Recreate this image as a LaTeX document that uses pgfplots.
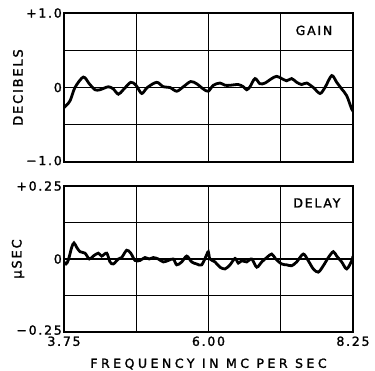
\documentclass[border=0pt]{standalone}
\usepackage{fontspec}
\usepackage{pgfplots}
\pgfplotsset{compat=1.18}
\setmainfont{DejaVu Sans}
\newfontfamily\lbl[LetterSpace=14,FakeBold=1.6]{DejaVu Sans}
\newfontfamily\lblx[LetterSpace=28,FakeBold=1.6]{DejaVu Sans}
\begin{document}
\begin{tikzpicture}
\useasboundingbox (0pt,0pt) rectangle (375pt,-370pt);
\pgfplotsset{
  panel/.style={
    scale only axis, width=289pt, xmin=3.75, xmax=8.25,
    axis line style={line width=1.6pt},
    grid=major, major grid style={black, line width=1.1pt},
    major tick length=0pt,
    xtick={3.75,4.875,6,7.125,8.25},
    tick label style={font=\lbl\fontsize{12.5}{13}\selectfont},
    yticklabel style={inner xsep=2pt},
    /pgf/number format/assume math mode=true,
    every axis y label/.style={at={([xshift=-46pt]axis description cs:0,0.5)}, rotate=90, anchor=center, font=\lbl\fontsize{13}{14}\selectfont},
    every axis x label/.style={at={([yshift=-32pt]axis description cs:0.5,0)}, anchor=center, font=\lblx\fontsize{12.5}{13}\selectfont},
  }
}
\begin{axis}[panel, height=149pt, at={(64pt,-13pt)}, anchor=north west,
  ymin=-1, ymax=1, ytick={-1,-0.5,0,0.5,1},
  yticklabels={\raisebox{3pt}{−1.0},,0,,\raisebox{-2.5pt}{+1.0}},
  xticklabels={},
  ylabel={DECIBELS}]
\addplot[black, line width=2.8pt, smooth, tension=0.5] coordinates {
(3.750,-0.27)(3.843,-0.18)(3.921,0.00)(4.051,0.14)(4.144,0.05)(4.233,-0.03)
(4.311,-0.03)(4.440,0.01)(4.518,-0.02)(4.596,-0.09)(4.673,-0.03)(4.789,0.07)
(4.871,0.03)(4.960,-0.08)(5.047,0.00)(5.193,0.07)(5.296,0.01)(5.400,0.00)
(5.505,-0.05)(5.608,0.01)(5.723,0.08)(5.816,0.05)(5.919,-0.02)(5.997,-0.05)
(6.075,0.03)(6.179,0.06)(6.257,0.03)(6.335,0.03)(6.464,0.04)(6.542,0.01)
(6.595,-0.03)(6.646,0.01)(6.724,0.12)(6.802,0.05)(6.880,0.06)(6.984,0.12)
(7.062,0.15)(7.140,0.12)(7.218,0.09)(7.295,0.12)(7.373,0.07)(7.451,0.04)
(7.529,0.06)(7.632,0.00)(7.736,-0.08)(7.814,0.00)(7.918,0.16)(7.996,0.07)
(8.074,-0.02)(8.152,-0.11)(8.230,-0.29)(8.250,-0.31)};
\node[font=\lbl\fontsize{12.5}{13}\selectfont] at (rel axis cs:0.865,0.883) {GAIN};
\end{axis}
\begin{axis}[panel, height=146pt, at={(64pt,-186pt)}, anchor=north west,
  ymin=-0.25, ymax=0.25, ytick={-0.25,-0.125,0,0.125,0.25},
  yticklabels={\raisebox{4pt}{−0.25},,0,,\raisebox{-1pt}{+0.25}},
  xticklabels={3.75,,6.00,,8.25},
  xticklabel style={yshift=-1pt},
  ylabel={μSEC},
  xlabel={FREQUENCY IN MC PER SEC}]
\addplot[black, line width=2.8pt, smooth, tension=0.5] coordinates {
(3.750,-0.010)(3.781,-0.017)(3.817,-0.004)(3.870,0.040)(3.906,0.055)(3.948,0.040)
(3.999,0.025)(4.077,0.020)(4.144,0.000)(4.206,0.010)(4.284,0.020)(4.337,0.010)
(4.415,0.020)(4.466,-0.010)(4.518,-0.017)(4.596,0.000)(4.648,0.005)(4.726,0.030)
(4.789,0.020)(4.856,-0.005)(4.933,-0.005)(5.011,0.005)(5.078,0.000)(5.141,0.005)
(5.218,0.000)(5.296,-0.010)(5.374,-0.005)(5.452,0.000)(5.505,-0.020)(5.583,-0.010)
(5.661,0.010)(5.738,-0.010)(5.816,-0.017)(5.894,-0.020)(5.972,0.015)(5.997,0.025)
(6.023,0.000)(6.101,-0.010)(6.179,-0.028)(6.257,-0.034)(6.335,-0.020)(6.413,0.002)
(6.464,-0.014)(6.517,-0.006)(6.595,-0.010)(6.673,0.000)(6.751,-0.028)(6.829,-0.010)
(6.907,0.005)(6.984,0.017)(7.047,0.000)(7.140,-0.017)(7.218,-0.020)(7.295,-0.023)
(7.373,-0.010)(7.476,0.017)(7.554,-0.006)(7.632,-0.034)(7.710,-0.045)(7.788,-0.023)
(7.866,0.005)(7.943,0.025)(7.996,0.010)(8.074,-0.010)(8.152,-0.034)(8.230,-0.006)
(8.250,0.010)};
\node[font=\lbl\fontsize{12.5}{13}\selectfont] at (rel axis cs:0.875,0.884) {DELAY};
\end{axis}
\end{tikzpicture}
\end{document}
